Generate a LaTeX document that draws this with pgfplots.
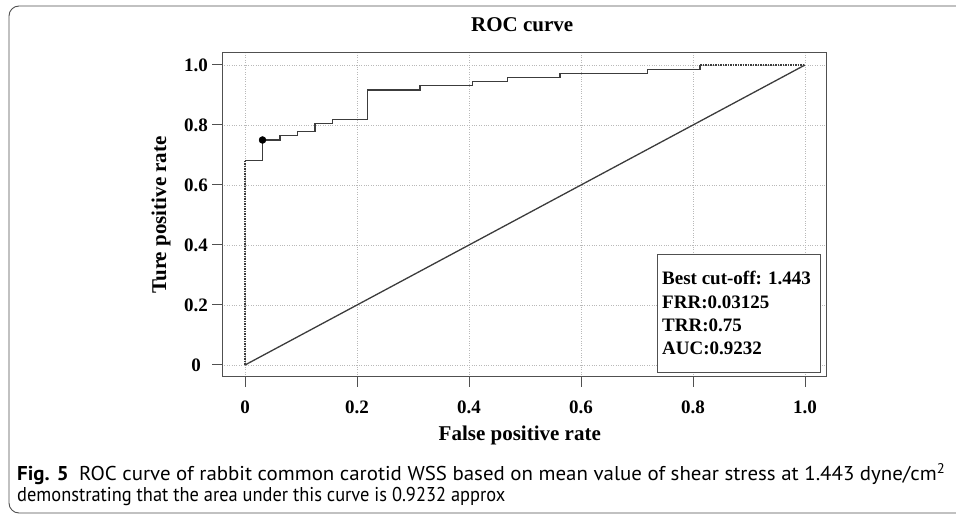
\documentclass[border=0pt]{standalone}
\usepackage{pgfplots}
\pgfplotsset{compat=1.18}
\usepackage{fontspec}
\usepackage{graphicx}
\setmainfont{Liberation Serif}
\newfontfamily\capfont{PT Sans}
\definecolor{linec}{HTML}{3C3C3C}
\definecolor{axc}{HTML}{505050}
\begin{document}
\begin{tikzpicture}
\useasboundingbox (0pt,0pt) rectangle (956pt,514pt);
\draw[axc, line width=0.9pt, rounded corners=10pt] (975pt,1pt) -- (9pt,1pt) -- (9pt,508pt) -- (975pt,508pt);
\begin{axis}[
  at={(222pt,137pt)}, anchor=south west,
  scale only axis, width=604pt, height=324pt,
  xmin=-0.0411, xmax=1.0375, ymin=-0.04, ymax=1.04,
  xtick={0,0.2,0.4,0.6,0.8,1.0}, xticklabels={0,0.2,0.4,0.6,0.8,1.0},
  ytick={0,0.2,0.4,0.6,0.8,1.0}, yticklabels={0,0.2,0.4,0.6,0.8,1.0},
  /pgf/number format/assume math mode=true,
  tick align=outside, major tick length=10pt,
  tick style={axc, line width=1pt},
  axis line style={axc, line width=1pt},
  xtick pos=bottom, ytick pos=left,
  ticklabel style={font=\fontsize{19}{23}\selectfont\bfseries},
  xticklabel style={anchor=base, yshift=-27pt},
  yticklabel style={anchor=center, xshift=-16pt},
  grid=major,
  major grid style={dotted, gray!55, line width=0.8pt},
  title={ROC curve},
  title style={font=\fontsize{21}{25}\selectfont\bfseries, at={(axis description cs:0.497,1.049)}, anchor=base},
  xlabel={False positive rate},
  xlabel style={font=\fontsize{21}{25}\selectfont\bfseries, at={(axis description cs:0.493,-0.1975)}, anchor=base},
  ylabel={Ture positive rate},
  ylabel style={font=\fontsize{21}{25}\selectfont\bfseries, at={(axis description cs:-0.0927,0.5)}, anchor=base},
  clip=false,
]
\addplot[linec, line width=1.3pt, dash pattern=on 1.5pt off 1pt] coordinates {(0,0) (0,0.6806)};
\addplot[linec, line width=1.3pt] coordinates {
(0,0.6806) (0.03125,0.6806) (0.03125,0.75) (0.0625,0.75) (0.0625,0.7639)
(0.09375,0.7639) (0.09375,0.7778) (0.125,0.7778) (0.125,0.8056)
(0.15625,0.8056) (0.15625,0.8194) (0.21875,0.8194) (0.21875,0.9167)
(0.3125,0.9167) (0.3125,0.9306) (0.40625,0.9306) (0.40625,0.9444)
(0.46875,0.9444) (0.46875,0.9583) (0.5625,0.9583) (0.5625,0.9722)
(0.71875,0.9722) (0.71875,0.9861) (0.8125,0.9861) (0.8125,1)};
\addplot[linec, line width=1.3pt, dash pattern=on 1.5pt off 1pt] coordinates {(0.8125,1) (1,1)};
\addplot[linec, line width=1.3pt] coordinates {(0,0) (1,1)};
\addplot[only marks, mark=*, mark size=3.5pt, black] coordinates {(0.03125,0.75)};
\end{axis}
\draw[axc, line width=1pt, fill=white] (657pt,141pt) rectangle (820pt,259pt);
\begin{scope}[every node/.style={anchor=base west, inner sep=0pt, font=\fontsize{19}{23}\selectfont\bfseries}]
\node at (662pt,229pt) {Best cut-off: 1.443};
\node at (662pt,205pt) {FRR:0.03125};
\node at (662pt,182pt) {TRR:0.75};
\node at (662pt,159pt) {AUC:0.9232};
\end{scope}
\node[anchor=base west, inner sep=0pt] at (17pt,33pt) {\resizebox{928pt}{\height}{\capfont\fontsize{20}{22}\selectfont\textbf{Fig. 5}\hspace{0.5em}ROC curve of rabbit common carotid WSS based on mean value of shear stress at 1.443 dyne/cm\textsuperscript{2}}};
\node[anchor=base west, inner sep=0pt] at (17pt,12pt) {\resizebox{488pt}{\height}{\capfont\fontsize{20}{22}\selectfont demonstrating that the area under this curve is 0.9232 approx}};
\end{tikzpicture}
\end{document}
